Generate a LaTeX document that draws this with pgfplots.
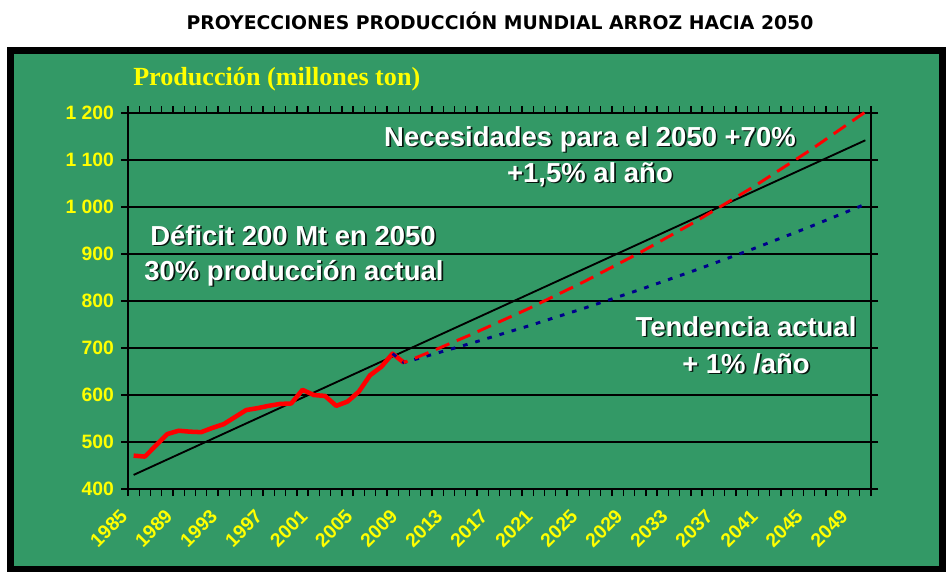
\documentclass[border=0pt]{standalone}
\usepackage{pgfplots}
\pgfplotsset{compat=1.18}
\usepackage{fontspec}
\setmainfont{Liberation Sans}
\newfontfamily\serifb{Liberation Serif}
\newfontfamily\titlef{DejaVu Sans}
\definecolor{bggreen}{RGB}{51,153,102}
\definecolor{navyb}{RGB}{0,0,140}
\definecolor{yel}{RGB}{255,255,0}
\newcommand{\annfont}{\bfseries\fontsize{20.6pt}{24pt}\selectfont}
\newcommand{\shtext}[3]{%
  \node[anchor=base, font=\annfont, text=black, opacity=0.85] at (#1+1.6,#2+1.6) {#3};
  \node[anchor=base, font=\annfont, text=white] at (#1,#2) {#3};}
\begin{document}
\begin{tikzpicture}[x=0.75pt,y=-0.75pt]
\useasboundingbox (0,0) rectangle (946,572);
\fill[white] (0,0) rectangle (946,572);
\fill[black] (7,47) rectangle (946,572);
\fill[bggreen] (14,54) rectangle (939,566);
\node[anchor=base, font=\titlef\bfseries\fontsize{14.1pt}{16pt}\selectfont] at (500,29) {PROYECCIONES PRODUCCIÓN MUNDIAL ARROZ HACIA 2050};
\node[anchor=base west, font=\serifb\bfseries\fontsize{19.6pt}{22pt}\selectfont, text=yel, inner sep=0pt] at (133,85) {Producción (millones ton)};
\begin{axis}[
  at={(96pt,-366.75pt)}, anchor=south west,
  scale only axis, width=557.25pt, height=282pt,
  xmin=1984.5, xmax=2050.5, ymin=400, ymax=1200,
  clip=false,
  axis line style={black, line width=1.3pt},
  every tick/.style={black, line width=1pt},
  tick align=outside,
  major tick length=0pt,
  minor tick length=5.25pt,
  ytick={400,500,...,1200},
  minor ytick={400,500,...,1200},
  yticklabels={400,500,600,700,800,900,1 000,1 100,1 200},
  ymajorgrids, grid style={black, line width=1pt},
  xtick={1985,1989,...,2049},
  xticklabels={1985,1989,1993,1997,2001,2005,2009,2013,2017,2021,2025,2029,2033,2037,2041,2045,2049},
  minor xtick={1984.5,1985.5,...,2050.5},
  ticklabel style={font=\bfseries\fontsize{14.5pt}{16pt}\selectfont, text=yel},
  x tick label style={xshift=-11pt, yshift=-14pt, rotate=45, anchor=north east, inner sep=0pt},
  y tick label style={xshift=-7pt},
]
\addplot[black, line width=1.4pt] coordinates {(1985,430) (2050,1142)};
\addplot[red, line width=3.4pt, line join=round] coordinates {
(1985,471) (1986,469) (1987,493) (1988,517) (1989,524) (1990,522) (1991,521)
(1992,530) (1993,538) (1994,553) (1995,568) (1996,572) (1997,577) (1998,581)
(1999,582) (2000,611) (2001,600) (2002,598) (2003,577) (2004,586) (2005,607)
(2006,642) (2007,660) (2008,688) (2009,669)};
\addplot[navyb, line width=2.2pt, dash pattern=on 3.5pt off 6pt] coordinates {
(2008,688) (2009,669) (2010,675.7) (2015,710.2) (2020,746.4) (2025,784.5)
(2030,824.5) (2035,866.5) (2040,910.7) (2045,957.2) (2050,1006.0)};
\addplot[red, line width=2.2pt, dash pattern=on 11pt off 6pt, dash phase=8pt] coordinates {
(2009,669) (2010,678.6) (2012,698.3) (2015,728.9) (2020,782.9) (2025,841.0)
(2030,903.3) (2035,970.2) (2040,1042.1) (2045,1119.3) (2050,1202.3)};
\end{axis}
\shtext{590}{146}{Necesidades para el 2050 +70\%}
\shtext{590}{182}{+1,5\% al año}
\shtext{293}{245}{Déficit 200 Mt en 2050}
\shtext{294}{280}{30\% producción actual}
\shtext{746}{336}{Tendencia actual}
\shtext{746}{373}{+ 1\% /año}
\end{tikzpicture}
\end{document}
